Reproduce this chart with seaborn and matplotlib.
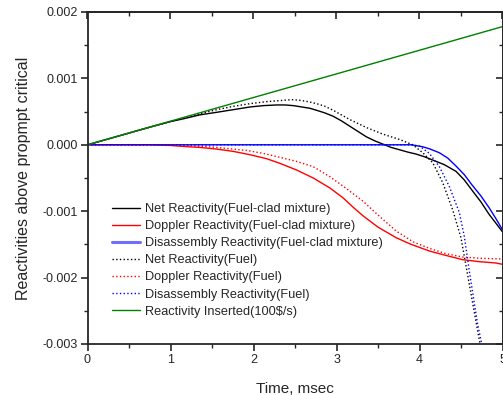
import matplotlib
matplotlib.use("Agg")
import matplotlib.pyplot as plt
from matplotlib.ticker import MultipleLocator
import seaborn as sns
import pandas as pd

# ---- data ----
net_fc_t = [0, 0.5, 0.76, 1.0, 1.15, 1.35, 1.56, 1.76, 1.96, 2.12, 2.28, 2.38, 2.48,
            2.58, 2.68, 2.76, 2.86, 2.96, 3.06, 3.16, 3.26, 3.36, 3.46, 3.56, 3.66,
            3.76, 3.86, 3.96, 4.06, 4.16, 4.3, 4.44, 4.54, 4.63, 4.74, 4.84, 4.92, 5.0]
net_fc = [0, 0.000177, 0.00027, 0.00035, 0.00039, 0.00045, 0.00049, 0.00053,
          0.00057, 0.00059, 0.0006, 0.0006, 0.00059, 0.00057, 0.00055, 0.00052,
          0.00048, 0.00043, 0.00036, 0.00028, 0.0002, 0.00012, 0.00006, 0.00001,
          -0.00004, -0.000075, -0.00011, -0.00014, -0.00018, -0.00023, -0.0003,
          -0.0004, -0.00053, -0.00068, -0.00086, -0.00105, -0.00118, -0.00131]

doppler_fc_t = [0, 0.76, 1.0, 1.16, 1.36, 1.56, 1.76, 1.96, 2.16, 2.32, 2.52, 2.72,
                2.92, 3.08, 3.2, 3.32, 3.5, 3.72, 3.9, 4.12, 4.3, 4.52, 4.72, 4.92, 5.0]
doppler_fc = [0, 0, -0.00001, -0.000025, -0.00004, -0.000065, -0.0001, -0.00015,
              -0.00021, -0.00028, -0.00038, -0.0005, -0.00065, -0.0008, -0.00094,
              -0.00107, -0.00124, -0.0014, -0.0015, -0.0016, -0.00166, -0.00173,
              -0.00176, -0.00178, -0.0018]

disasm_fc_t = [0, 1.0, 2.0, 3.0, 3.5, 3.9, 4.04, 4.12, 4.24, 4.34, 4.44, 4.54,
               4.63, 4.74, 4.84, 4.92, 5.0]
disasm_fc = [0, 0, 0, 0, 0, 0, -0.00003, -0.00006, -0.00012, -0.0002, -0.00032,
             -0.00045, -0.0006, -0.00077, -0.00095, -0.00111, -0.00128]

net_f_t = [0, 0.5, 1.0, 1.3, 1.56, 1.76, 1.96, 2.16, 2.36, 2.46, 2.56, 2.66, 2.76,
           2.86, 2.96, 3.06, 3.16, 3.26, 3.36, 3.46, 3.56, 3.66, 3.76, 3.84, 3.92,
           4.04, 4.16, 4.28, 4.4, 4.5, 4.6, 4.7, 4.73]
net_f = [0, 0.000177, 0.00035, 0.00045, 0.00053, 0.00058, 0.00062, 0.00065,
         0.00067, 0.00068, 0.00067, 0.00065, 0.00062, 0.00058, 0.00052, 0.00045,
         0.00038, 0.00032, 0.00026, 0.00021, 0.00016, 0.00012, 0.00008, 0.00004,
         0.0, -0.00012, -0.00027, -0.00057, -0.00098, -0.0014, -0.0021, -0.0028,
         -0.003]

doppler_f_t = [0, 1.0, 1.25, 1.52, 1.72, 1.92, 2.12, 2.32, 2.52, 2.72, 2.92, 3.12,
               3.32, 3.52, 3.72, 3.92, 4.12, 4.32, 4.52, 4.75, 5.0]
doppler_f = [0, -0.000005, -0.000015, -0.000035, -0.00006, -0.000085, -0.00013,
             -0.00019, -0.00025, -0.00033, -0.00048, -0.00066, -0.00085, -0.00108,
             -0.0013, -0.00146, -0.00156, -0.00164, -0.00169, -0.00171, -0.00172]

disasm_f_t = [0, 1.0, 2.0, 3.0, 3.5, 3.9, 4.0, 4.12, 4.24, 4.36, 4.48, 4.54, 4.6,
              4.7, 4.75]
disasm_f = [0, 0, 0, 0, 0, 0, -0.00002, -0.00013, -0.00033, -0.00063, -0.00102,
            -0.00138, -0.0019, -0.0027, -0.003]

inserted_t = [0, 5.0]
inserted = [0, 0.00178]

labels = ["Net Reactivity(Fuel-clad mixture)",
          "Doppler Reactivity(Fuel-clad mixture)",
          "Disassembly Reactivity(Fuel-clad mixture)",
          "Net Reactivity(Fuel)",
          "Doppler Reactivity(Fuel)",
          "Disassembly Reactivity(Fuel)",
          "Reactivity Inserted(100$/s)"]

series = [(net_fc_t, net_fc), (doppler_fc_t, doppler_fc), (disasm_fc_t, disasm_fc),
          (net_f_t, net_f), (doppler_f_t, doppler_f), (disasm_f_t, disasm_f),
          (inserted_t, inserted)]
colors = ["black", "#ff0000", "#0000ff", "black", "#ff0000", "#0000ff", "#008000"]
styles = ["-", "-", "-", ":", ":", ":", "-"]

x_ticks = [0, 1, 2, 3, 4, 5]
y_ticks = [-0.003, -0.002, -0.001, 0.000, 0.001, 0.002]
y_ticklabels = ["-0.003", "-0.002", "-0.001", "0.000", "0.001", "0.002"]

# ---- plotting ----
sns.set_style("ticks")
plt.rcParams["font.family"] = ["Liberation Sans", "DejaVu Sans"]

fig = plt.figure(figsize=(5.03, 3.95), dpi=100)
ax = fig.add_axes([87.5 / 503, 1 - 344 / 395, (502.5 - 87.5) / 503, (344 - 12) / 395])

for (tx, ty), lab, c, ls in zip(series, labels, colors, styles):
    df = pd.DataFrame({"t": tx, "r": ty})
    sns.lineplot(data=df, x="t", y="r", ax=ax, color=c, linestyle=ls,
                 linewidth=1.0, label=lab, sort=False, estimator=None)

ax.set_xlim(0, 5)
ax.set_ylim(-0.003, 0.002)
ax.set_xticks(x_ticks)
ax.set_xticklabels([str(v) for v in x_ticks])
ax.set_yticks(y_ticks)
ax.set_yticklabels(y_ticklabels)
ax.xaxis.set_minor_locator(MultipleLocator(0.5))
ax.yaxis.set_minor_locator(MultipleLocator(0.0005))
ax.tick_params(which="major", direction="out", length=5, width=1.2, labelsize=9, pad=2)
ax.tick_params(which="minor", direction="out", length=3, width=1.0)
for s in ax.spines.values():
    s.set_visible(True)
    s.set_linewidth(1.3)

top = ax.secondary_xaxis("top")
top.set_xticks(x_ticks)
top.xaxis.set_minor_locator(MultipleLocator(0.5))
top.tick_params(which="major", direction="in", length=5, width=1.2, labeltop=False)
top.tick_params(which="minor", direction="in", length=3, width=1.0)
top.spines["top"].set_linewidth(1.3)
right = ax.secondary_yaxis("right")
right.set_yticks(y_ticks)
right.yaxis.set_minor_locator(MultipleLocator(0.0005))
right.tick_params(which="major", direction="in", length=5, width=1.2, labelright=False)
right.tick_params(which="minor", direction="in", length=3, width=1.0)
right.spines["right"].set_linewidth(1.3)

ax.set_xlabel("Time, msec", fontsize=11, labelpad=12)
ax.set_ylabel("Reactivities above propmpt critical", fontsize=11.5, labelpad=8)

leg = ax.legend(loc="upper left", bbox_to_anchor=(112 / 503, 1 - 203 / 395),
                bbox_transform=fig.transFigure, frameon=False, fontsize=9.2,
                borderaxespad=0, borderpad=0, handlelength=2.2, handletextpad=0.4,
                labelspacing=0.4)
h = leg.legend_handles[2]
h.set_linewidth(2.2)
h.set_color("#6f6fff")

fig.savefig("out.png", dpi=100)
